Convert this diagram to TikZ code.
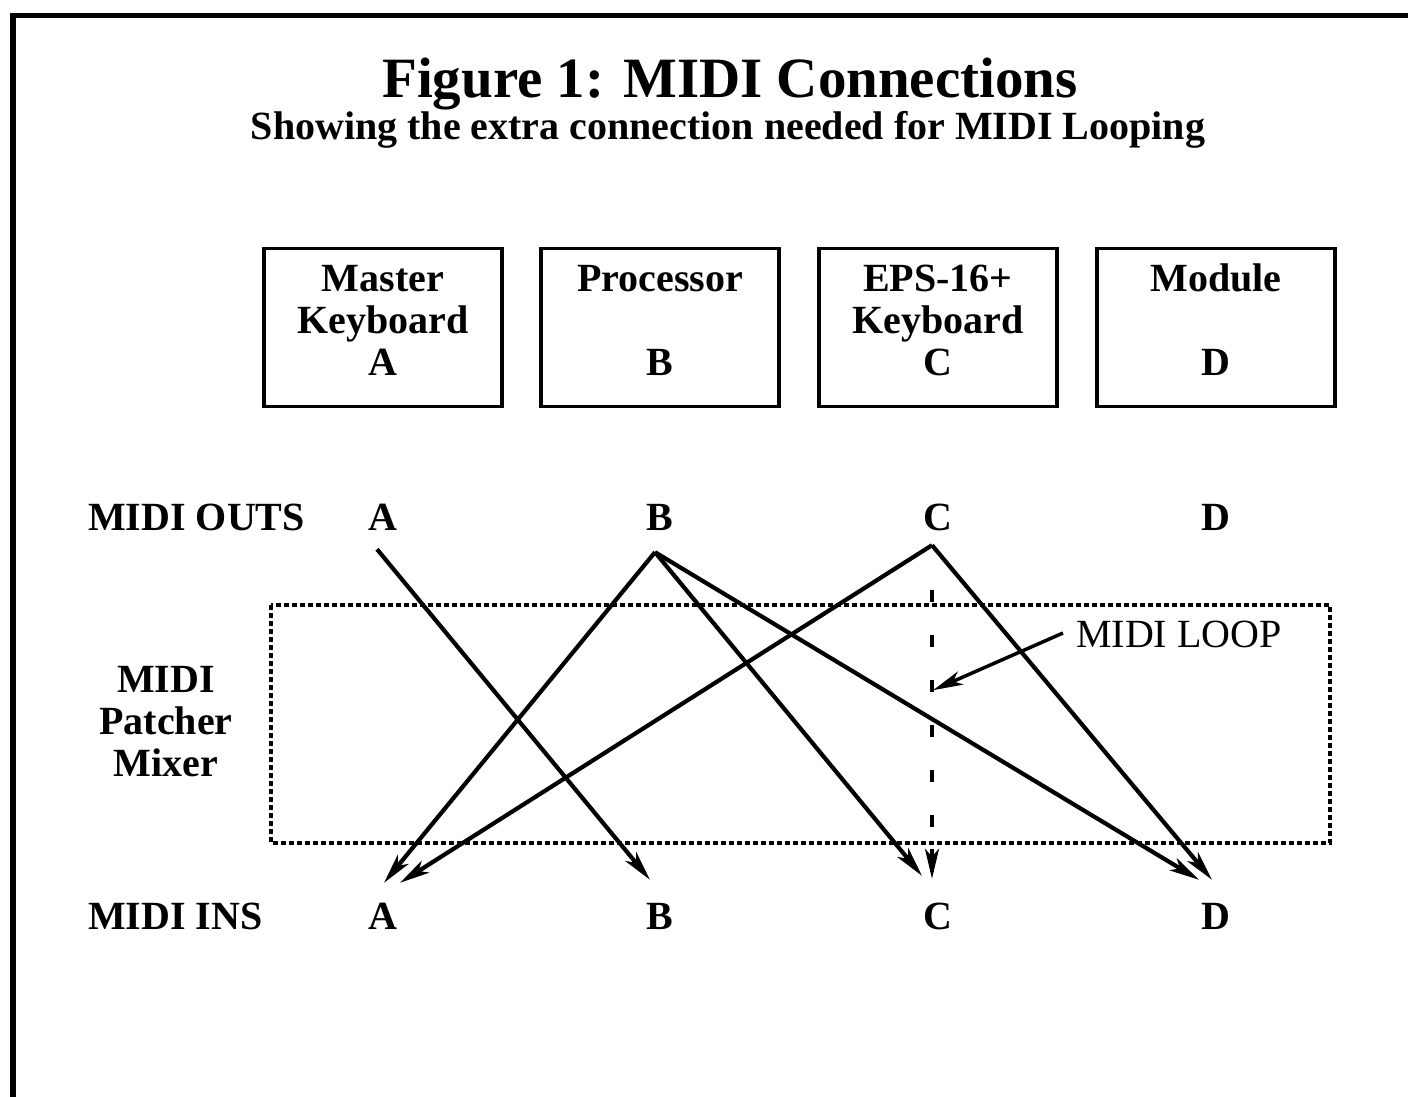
\documentclass[tikz,border=0pt]{standalone}
\usepackage{fontspec}
\setmainfont{Liberation Serif}
\usetikzlibrary{arrows.meta}
\begin{document}
\begin{tikzpicture}[x=1pt,y=-1pt,
  every node/.style={font=\fontsize{40}{42}\selectfont\bfseries, inner sep=0pt},
  devbox/.style={draw, line width=3.8pt, minimum width=238pt, minimum height=158pt},
  devtext/.style={align=center, anchor=center},
  lbl/.style={anchor=base, text height=28pt, text depth=0pt},
  wire/.style={line width=4.2pt, -{Stealth[length=30pt,width=14pt,inset=8pt]}},
  frame/.style={line width=5.5pt},
  patch/.style={line width=3.6pt, dash pattern=on 5pt off 3pt},
  loopline/.style={line width=4pt, dash pattern=on 12pt off 33pt}
]
\useasboundingbox (0,0) rectangle (1408,1097);
\draw[frame] (13,1110) -- (13,15.5) -- (1420,15.5);

% titles
\node[font=\fontsize{57}{60}\selectfont\bfseries] (title) at (730,84) {Figure 1: MIDI Connections};
\node[font=\fontsize{40}{42}\selectfont\bfseries] (sub) at (728,130) {Showing the extra connection needed for MIDI Looping};

% device boxes
\node[devbox] (boxA) at (383,327.5) {};
\node[devbox] (boxB) at (660,327.5) {};
\node[devbox] (boxC) at (938,327.5) {};
\node[devbox] (boxD) at (1216,327.5) {};
\node[devtext] (tA) at (383,320) {Master\\Keyboard\\A};
\node[devtext] (tB) at (660,320) {Processor\\\strut\\B};
\node[devtext] (tC) at (938,320) {EPS-16+\\Keyboard\\C};
\node[devtext] (tD) at (1216,320) {Module\\\strut\\D};

% row labels
\node[lbl, anchor=base west] (outs) at (88,530) {MIDI OUTS};
\node[lbl, anchor=base west] (ins) at (88,929) {MIDI INS};
\node[lbl] (outA) at (383,530) {A};
\node[lbl] (outB) at (660,530) {B};
\node[lbl] (outC) at (938,530) {C};
\node[lbl] (outD) at (1216,530) {D};
\node[lbl] (inA) at (383,929) {A};
\node[lbl] (inB) at (660,929) {B};
\node[lbl] (inC) at (938,929) {C};
\node[lbl] (inD) at (1216,929) {D};

% patcher
\draw[patch] (271,605) rectangle (1330,843);
\node[align=center, font=\fontsize{40}{42}\selectfont\bfseries] (patcher) at (166,722) {MIDI\\Patcher\\Mixer};

% connections
\draw[wire] ([shift={(-6,19)}]outA.south) -- ([shift={(-10,-21)}]inB.north);
\draw[wire] ([shift={(-5,22)}]outB.south) -- ([shift={(1,-18)}]inA.north);
\draw[wire] ([shift={(-5,22)}]outB.south) -- ([shift={(-16,-25)}]inC.north);
\draw[wire] ([shift={(-5,22)}]outB.south) -- ([shift={(-17,-21)}]inD.north);
\draw[wire] ([shift={(-6,15)}]outC.south) -- ([shift={(17,-18)}]inA.north);
\draw[wire] ([shift={(-6,15)}]outC.south) -- ([shift={(-4,-21)}]inD.north);
\draw[loopline] ([shift={(-6,60)}]outC.south) -- ([shift={(-6,-24)}]inC.north);
\draw[wire] ([shift={(-6,-52)}]inC.north) -- ([shift={(-6,-22)}]inC.north);

% MIDI LOOP label
\node[font=\fontsize{40}{42}\selectfont, anchor=west] (loop) at (1076,634) {MIDI LOOP};
\draw[wire, line width=3.5pt] ([xshift=-13pt,yshift=1pt]loop.west) -- ([shift={(-5,160)}]outC.south);
\end{tikzpicture}
\end{document}
